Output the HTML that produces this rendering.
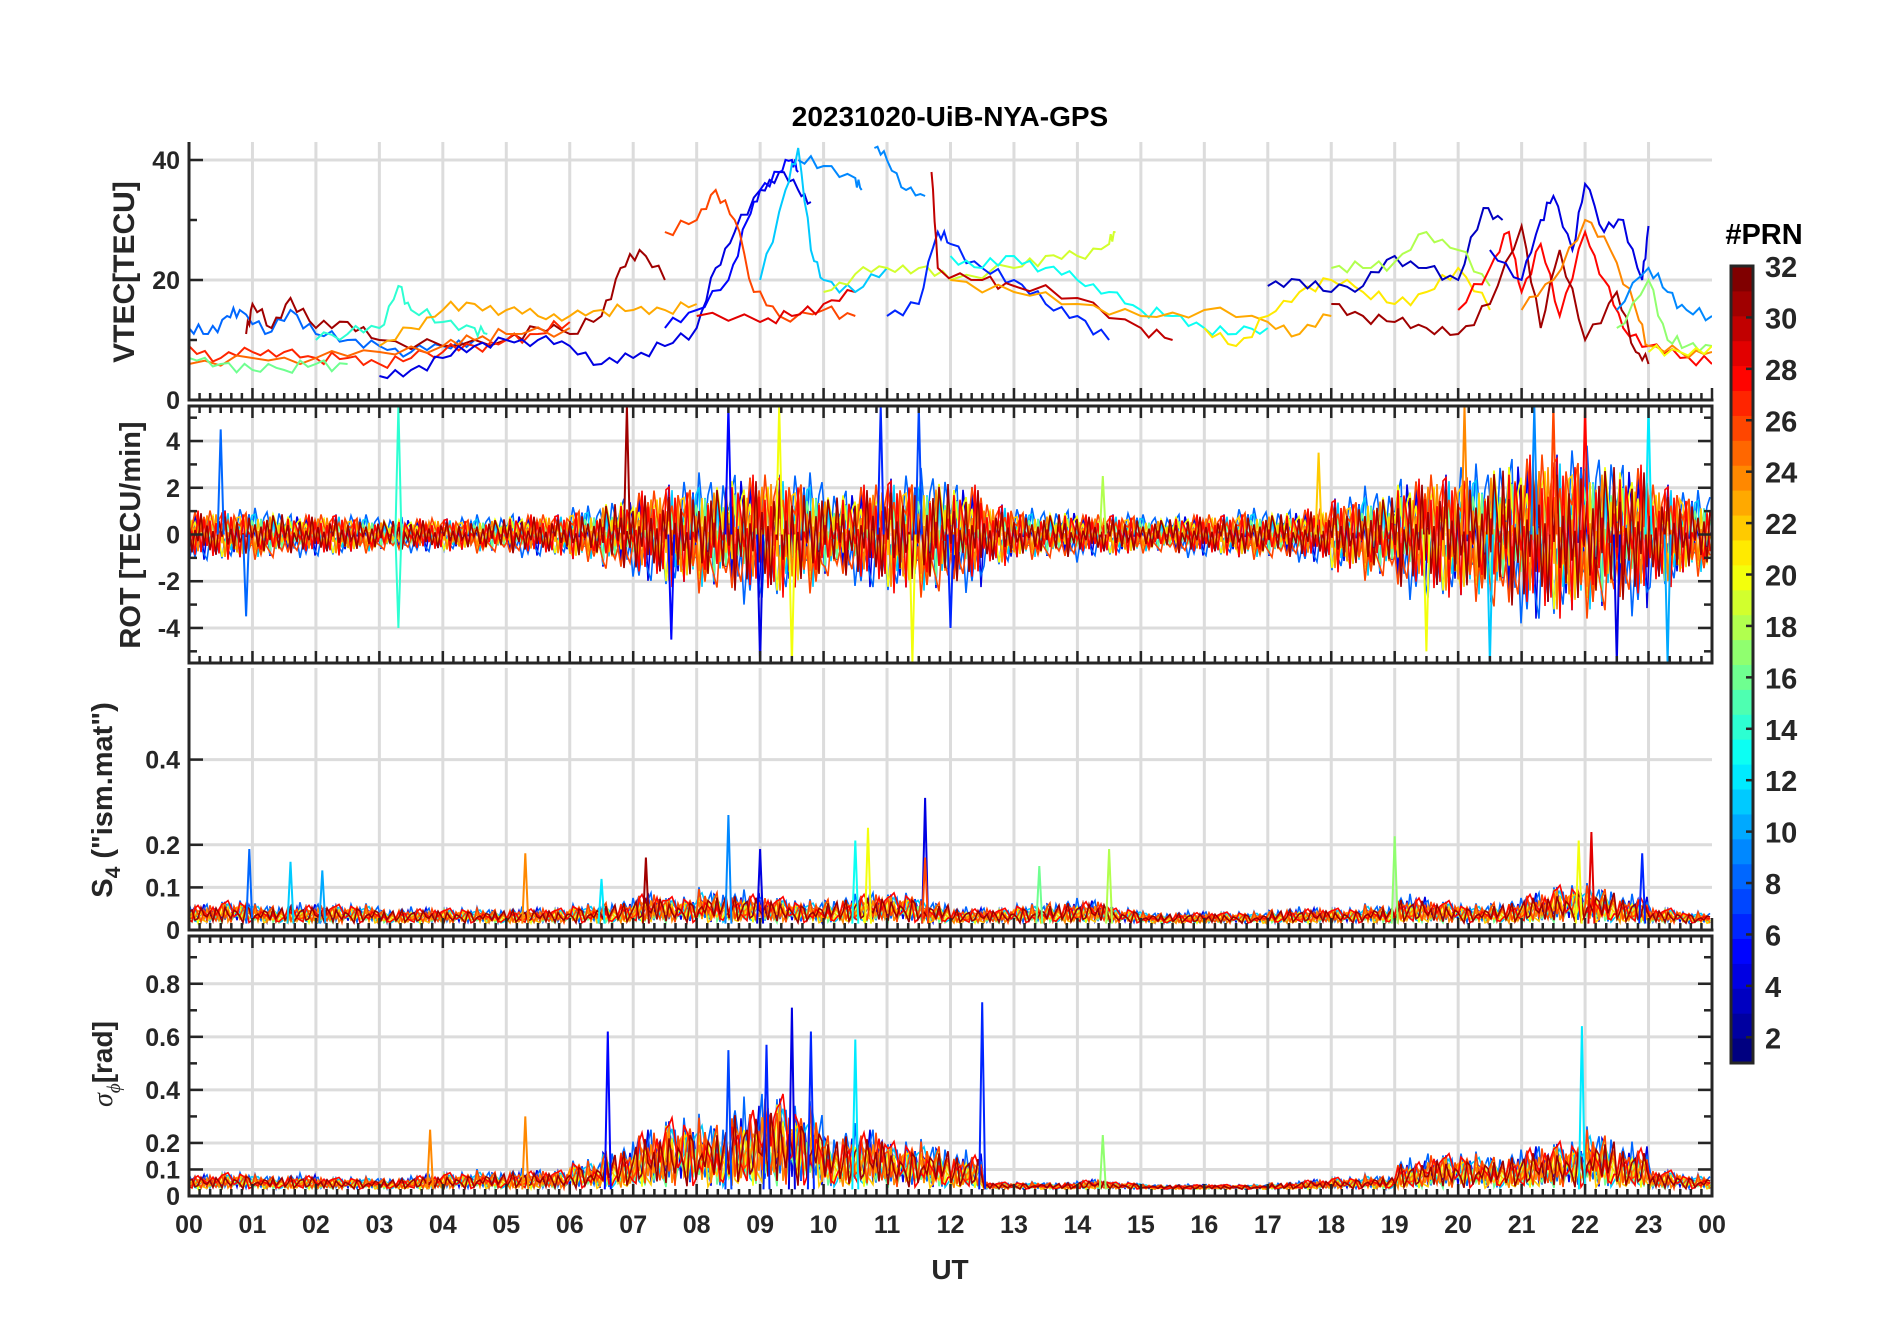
<!DOCTYPE html>
<html><head><meta charset="utf-8">
<style>
html,body{margin:0;padding:0;background:#fff;}
svg{display:block;font-family:"Liberation Sans",Arial,sans-serif;font-weight:bold;}
</style></head>
<body>
<svg id="chart" width="1902" height="1330" viewBox="0 0 1902 1330" xmlns="http://www.w3.org/2000/svg">
<rect width="1902" height="1330" fill="#fff"/>
<text x="950" y="126" text-anchor="middle" font-size="28" fill="#000">20231020-UiB-NYA-GPS</text>
<g id="grid"></g><g id="data"></g><g id="axes"></g><g id="cbar"></g>
</svg>
<script>
// ---------- data ----------
const hourLabels=["00","01","02","03","04","05","06","07","08","09","10","11","12","13","14","15","16","17","18","19","20","21","22","23","00"];
const vtecPrns=[8,31,27,25,16,14,23,4,5,26,29,11,9,9,19,6,30,13,23,21,3,18,28,31,4,24,9,17,20];
const vtecSeries=[
[[0,12],[0.3,11],[0.6,14],[0.8,15],[1.2,11],[1.6,15],[2,11],[2.5,10],[3,9],[3.5,8],[4,9],[4.5,10]],
[[0.9,11],[1.0,16],[1.3,12],[1.6,17],[2,12],[2.5,13],[3,10],[4,9],[5,10],[5.5,12],[6,11],[6.5,14],[6.8,22],[7.1,25],[7.5,20]],
[[0,9],[0.5,7],[1,8],[1.5,8],[2,7],[2.5,7],[3,6],[3.5,7],[4,8],[4.5,9],[5,10],[5.5,11],[6,13]],
[[0,6],[1,7],[2,7],[3,8],[4,9],[4.5,10],[5,11],[6,12]],
[[0,7],[0.5,6],[1,5],[1.5,5],[2,6],[2.5,6]],
[[2,10],[2.5,11],[3,12],[3.3,19],[3.5,15],[4,13],[4.5,12],[4.7,11]],
[[3,9],[3.5,12],[4,15],[4.5,16],[5,15],[5.5,14],[6,14],[6.5,15],[7,15],[7.5,15],[8,16]],
[[3,4],[3.5,5],[4,7],[4.5,9],[5,10],[5.5,10],[6,9],[6.5,6],[7,7],[7.5,9],[8,12],[8.3,22],[8.6,28],[9,35],[9.3,38],[9.6,35],[9.8,33]],
[[7.5,12],[8,15],[8.5,20],[8.8,30],[9,35],[9.3,38],[9.5,40],[9.6,38]],
[[7.5,28],[8,30],[8.3,35],[8.6,30],[8.9,18],[9.3,14],[10,15],[10.5,14]],
[[8,14],[9,13],[9.5,14],[10,16],[10.5,18]],
[[9,20],[9.4,35],[9.6,42],[9.8,25],[10,20],[10.5,18],[11,22]],
[[9.6,40],[10,39],[10.5,37],[10.6,35]],
[[10.8,42],[11,40],[11.3,35],[11.6,34]],
[[10,18],[10.5,21],[11,22],[11.5,22],[12,20],[13,22],[13.5,24],[14,24],[14.5,26],[14.6,28]],
[[11,14],[11.5,16],[11.8,28],[12,26],[12.5,22],[13,20],[13.5,16],[14,14],[14.5,10]],
[[11.7,38],[11.8,22],[12.5,20],[13,19],[14,17],[15,12],[15.5,10]],
[[12,24],[12.5,22],[13,24],[13.5,22],[14,20],[14.5,18],[15,15],[15.5,14],[16,12],[16.5,11],[17,12]],
[[12,20],[13,18],[14,16],[15,14],[16,15],[17,13],[17.5,11],[18,14]],
[[16,12],[16.5,9],[17,14],[17.5,18],[18,20],[18.5,18],[19,16],[19.5,18],[20,22],[20.5,15]],
[[17,19],[17.5,20],[18,18],[18.5,19],[19,24],[19.5,22],[20,20],[20.4,32],[20.7,30]],
[[18,22],[18.5,22],[19,23],[19.5,28],[20,25],[20.5,19]],
[[20,15],[20.5,22],[20.8,28],[21,18],[21.3,26],[21.6,14],[22,28],[22.3,20],[22.6,12],[23,9],[23.5,7],[24,6]],
[[18,16],[18.5,14],[19,13],[19.5,12],[20,11],[20.5,16],[21,29],[21.3,12],[21.6,25],[22,10],[22.5,18],[22.8,8],[23,6]],
[[20.5,25],[21,20],[21.3,30],[21.5,34],[21.8,25],[22,36],[22.3,28],[22.6,30],[22.9,20],[23,29]],
[[21,15],[21.5,20],[22,30],[22.4,25],[22.8,15],[23,9],[23.5,8],[24,8]],
[[22.5,15],[23,22],[23.3,18],[23.6,15],[24,14]],
[[22.5,12],[23,20],[23.3,10],[23.6,9],[24,9]],
[[23,8],[23.5,8],[24,9]]
];
const rotAmp=[1.2,1.2,1.2,1.0,1.0,0.9,0.8,0.8,0.8,0.9,1.0,1.0,1.3,1.8,2.2,2.5,2.8,3.0,3.0,2.8,2.2,2.5,2.8,3.0,2.5,1.5,1.2,1.2,1.0,1.0,0.9,1.0,1.0,1.2,1.2,1.3,1.8,2.2,2.8,3.0,3.2,3.8,4.0,4.0,4.0,3.5,2.5,2.0];
const rotSpikes=[[0.5,4.5,8],[0.9,-3.5,8],[3.3,5.5,14],[3.3,-4,14],[6.9,5.5,31],[7.6,-4.5,5],[8.5,5.5,5],[9.0,-5.5,4],[9.3,5.5,20],[9.5,-5.5,20],[11.4,-5.5,20],[11.5,5.5,7],[10.9,5.5,6],[12.0,-4,6],[14.4,2.5,18],[17.8,3.5,22],[19.5,-5,20],[20.1,5.5,24],[21.5,5.5,26],[22,5.5,28],[22.5,-5.5,4],[23,5.5,12],[23.3,-5.5,10],[20.5,-5.5,11],[21.2,5.5,9]];
const s4Amp=[.05,.06,.05,.05,.05,.05,.04,.04,.04,.04,.04,.04,.05,.06,.08,.07,.09,.08,.07,.06,.07,.08,.08,.06,.04,.04,.05,.06,.06,.04,.03,.03,.03,.03,.04,.04,.04,.05,.07,.06,.05,.06,.08,.10,.10,.07,.04,.03];
const s4Spikes=[[0.95,0.19,8],[1.6,0.16,11],[2.1,0.14,10],[5.3,0.18,24],[8.5,0.27,9],[9.0,0.19,4],[10.5,0.21,13],[10.7,0.24,20],[11.6,0.31,4],[11.6,0.17,26],[13.4,0.15,16],[14.5,0.19,18],[19.0,0.22,17],[21.9,0.21,20],[22.1,0.23,29],[22.9,0.18,6],[6.5,0.12,12],[7.2,0.17,31]];
const sigAmp=[.06,.07,.06,.06,.05,.05,.05,.06,.07,.08,.08,.08,.12,.18,.25,.30,.30,.35,.40,.35,.25,.25,.20,.20,.15,.03,.03,.03,.04,.03,.02,.02,.02,.02,.03,.04,.05,.06,.12,.15,.15,.15,.18,.20,.25,.18,.08,.06];
const sigSpikes=[[6.6,0.62,5],[9.5,0.71,4],[9.8,0.62,6],[12.5,0.73,6],[10.5,0.59,12],[21.95,0.64,12],[3.8,0.25,24],[5.3,0.3,24],[14.4,0.23,17],[8.5,0.55,7],[9.1,0.57,6]];
const tracePrns=[4,8,11,16,20,22,24,26,28,31];
const traceScale=[0.9,1.0,0.8,0.6,0.8,0.7,0.8,0.9,0.9,0.8];
const P=[0.3,-0.6,0.9,-0.2,0.5,-1,0.1,-0.4,0.7,-0.8,0.2,-0.3,0.95,-0.5,0.4,-0.7,0.15,-0.9,0.6,-0.1,0.8,-0.45,0.25,-0.65,0.55,-0.35,0.05,-0.85,0.75,-0.15,0.45,-0.55,0.35,-0.75,0.65,-0.25,0.85];
// ---------- layout ----------
const NS="http://www.w3.org/2000/svg";
const X0=189,X1=1712;
const panels=[
 {name:"vtec",top:142,bot:400,min:0,max:43,ticks:[0,20,40],labels:["0","20","40"],minor:[10,30],box:false},
 {name:"rot",top:406,bot:663,min:-5.5,max:5.5,ticks:[-4,-2,0,2,4],labels:["-4","-2","0","2","4"],minor:[-5,-3,-1,1,3,5],box:true},
 {name:"s4",top:668,bot:930,min:0,max:0.615,ticks:[0,0.1,0.2,0.4],labels:["0","0.1","0.2","0.4"],minor:[],box:false},
 {name:"sigma",top:936,bot:1196,min:0,max:0.98,ticks:[0,0.1,0.2,0.4,0.6,0.8],labels:["0","0.1","0.2","0.4","0.6","0.8"],minor:[0.3,0.5,0.7,0.9],box:true}
];
function xs(h){return X0+(X1-X0)*h/24;}
function ys(p,v){return p.bot-(p.bot-p.top)*(v-p.min)/(p.max-p.min);}
function jet(prn){const t=(prn-1)/31;
 const r=Math.max(0,Math.min(1,Math.min(4*t-1.5,-4*t+4.5)));
 const g=Math.max(0,Math.min(1,Math.min(4*t-0.5,-4*t+3.5)));
 const b=Math.max(0,Math.min(1,Math.min(4*t+0.5,-4*t+2.5)));
 return `rgb(${Math.round(r*255)},${Math.round(g*255)},${Math.round(b*255)})`;}
function el(tag,attrs,parent){const e=document.createElementNS(NS,tag);for(const k in attrs)e.setAttribute(k,attrs[k]);parent.appendChild(e);return e;}
const G=document.getElementById("grid"),D=document.getElementById("data"),A=document.getElementById("axes"),C=document.getElementById("cbar");
panels.forEach(p=>{
 for(let h=1;h<24;h++){const l=el("line",{x1:xs(h),x2:xs(h),y1:p.top,y2:p.bot,stroke:"#dcdcdc","stroke-width":3},G);
  
  }
 p.ticks.forEach(v=>{if(v===p.min)return;const l=el("line",{x1:X0,x2:X1,y1:ys(p,v),y2:ys(p,v),stroke:"#dcdcdc","stroke-width":3},G);
  
  });
});
const defs=el("defs",{},document.getElementById("chart"));
panels.forEach((p,i)=>{const cp=el("clipPath",{id:"clip"+i},defs);el("rect",{x:X0,y:p.top,width:X1-X0,height:p.bot-p.top},cp);});
function pathFrom(pts){return pts.map((q,i)=>(i?"L":"M")+q[0].toFixed(1)+" "+q[1].toFixed(1)).join("");}
const g1=el("g",{"clip-path":"url(#clip0)"},D);


vtecSeries.forEach((s,i)=>{const pts=[];
 for(let k=0;k<s.length;k++){pts.push([xs(s[k][0]),ys(panels[0],s[k][1])]);
  if(k<s.length-1){const n=4;for(let j=1;j<n;j++){const h=s[k][0]+(s[k+1][0]-s[k][0])*j/n;const v=s[k][1]+(s[k+1][1]-s[k][1])*j/n+P[(i*7+k*3+j)%P.length]*1.2;pts.push([xs(h),ys(panels[0],v)]);}}}
 const e=el("path",{d:pathFrom(pts),fill:"none",stroke:jet(vtecPrns[i]),"stroke-width":2},g1);
 
 });
function noisy(pi,amp,base,abs,spikes,gname){
 const p=panels[pi];const g=el("g",{"clip-path":"url(#clip"+pi+")"},D);
 
 
 tracePrns.forEach((prn,ti)=>{const pts=[];const step=3;
  for(let x=0,i=0;x<=X1-X0;x+=step,i++){const h=x/(X1-X0)*24;const a=amp[Math.min(47,Math.floor(h*2))]*traceScale[ti];
   const m=P[(i*(ti%3+1)+ti*5)%P.length];const v=abs?base+Math.abs(m)*a:m*a;pts.push([X0+x,ys(p,v)]);}
  const e=el("path",{d:pathFrom(pts),fill:"none",stroke:jet(prn),"stroke-width":1.6},g);
  
  });
 spikes.forEach(s=>{const b=abs?base:0;
  const e=el("path",{d:pathFrom([[xs(s[0])-3,ys(p,b)],[xs(s[0]),ys(p,s[1])],[xs(s[0])+3,ys(p,b)]]),fill:"none",stroke:jet(s[2]),"stroke-width":2},g);
  
  });
}
noisy(1,rotAmp,0,false,rotSpikes,"rot");
noisy(2,s4Amp,0.015,true,s4Spikes,"s4");
noisy(3,sigAmp,0.025,true,sigSpikes,"sigma");
const AX="#262626";
panels.forEach((p,pi)=>{
 const l=el("line",{x1:X0,x2:X0,y1:p.top,y2:p.bot,stroke:AX,"stroke-width":3},A);
 
 
 const b=el("line",{x1:X0-1.5,x2:X1+1.5,y1:p.bot,y2:p.bot,stroke:AX,"stroke-width":3},A);
 
 
 if(p.box){el("line",{x1:X0-1.5,x2:X1+1.5,y1:p.top,y2:p.top,stroke:AX,"stroke-width":3},A);el("line",{x1:X1,x2:X1,y1:p.top,y2:p.bot,stroke:AX,"stroke-width":3},A);}
 for(let m=0;m<=144;m++){const x=X0+(X1-X0)*m/144;const len=m%6===0?12:7;
  el("line",{x1:x,x2:x,y1:p.bot,y2:p.bot-len,stroke:AX,"stroke-width":2.5},A);
  if(p.box)el("line",{x1:x,x2:x,y1:p.top,y2:p.top+len,stroke:AX,"stroke-width":2.5},A);}
 p.ticks.forEach((v,i)=>{const y=ys(p,v);
  el("line",{x1:X0,x2:X0+14,y1:y,y2:y,stroke:AX,"stroke-width":2.5},A);
  if(p.box)el("line",{x1:X1,x2:X1-14,y1:y,y2:y,stroke:AX,"stroke-width":2.5},A);
  const t=el("text",{x:X0-9,y:y+9,"text-anchor":"end","font-size":25,fill:AX},A);t.textContent=p.labels[i];
  
  });
 p.minor.forEach(v=>{const y=ys(p,v);el("line",{x1:X0,x2:X0+8,y1:y,y2:y,stroke:AX,"stroke-width":2.5},A);
  if(p.box)el("line",{x1:X1,x2:X1-8,y1:y,y2:y,stroke:AX,"stroke-width":2.5},A);});
});
hourLabels.forEach((lab,i)=>{const t=el("text",{x:xs(i),y:1233,"text-anchor":"middle","font-size":25,fill:AX},A);t.textContent=lab;
 
 });
function ytitle(txt,x,y,name,size){const t=el("text",{x:x,y:y,"text-anchor":"middle","font-size":size,fill:AX,transform:`rotate(-90 ${x} ${y})`},A);t.innerHTML=txt;
 
 }
ytitle("VTEC[TECU]",134,272,"vtec-y-title",30);
ytitle("ROT [TECU/min]",140,535,"rot-y-title",29);
ytitle('S<tspan font-size="21" dy="8">4</tspan><tspan dy="-8"> ("ism.mat")</tspan>',112,800,"s4-y-title",29);
ytitle('<tspan font-style="italic" font-weight="normal" font-family="Liberation Serif">σ</tspan><tspan font-size="19" dy="8" font-style="italic" font-weight="normal" font-family="Liberation Serif">ϕ</tspan><tspan dy="-8">[rad]</tspan>',112,1064,"sigma-y-title",28);
const ut=el("text",{x:950,y:1279,"text-anchor":"middle","font-size":28,fill:AX},A);ut.textContent="UT";


const CB={x:1731,w:22,top:266,bot:1063};
for(let k=0;k<32;k++){const y0=CB.bot-(CB.bot-CB.top)*(k+1)/32;
 const r=el("rect",{x:CB.x,y:y0,width:CB.w,height:(CB.bot-CB.top)/32+0.5,fill:jet(1+k)},C);
 
 }
const fr=el("rect",{x:CB.x,y:CB.top,width:CB.w,height:CB.bot-CB.top,fill:"none",stroke:AX,"stroke-width":3},C);


for(let v=2;v<=32;v+=2){const y=CB.bot-(CB.bot-CB.top)*(v-1)/31;
 el("line",{x1:CB.x+CB.w,x2:CB.x+CB.w-7,y1:y,y2:y,stroke:AX,"stroke-width":2.5},C);
 const t=el("text",{x:1765,y:y+11,"font-size":29,fill:AX},C);t.textContent=v;
 
 }
const ct=el("text",{x:1764,y:244,"text-anchor":"middle","font-size":29,fill:"#000"},C);ct.textContent="#PRN";


</script>
</body></html>
